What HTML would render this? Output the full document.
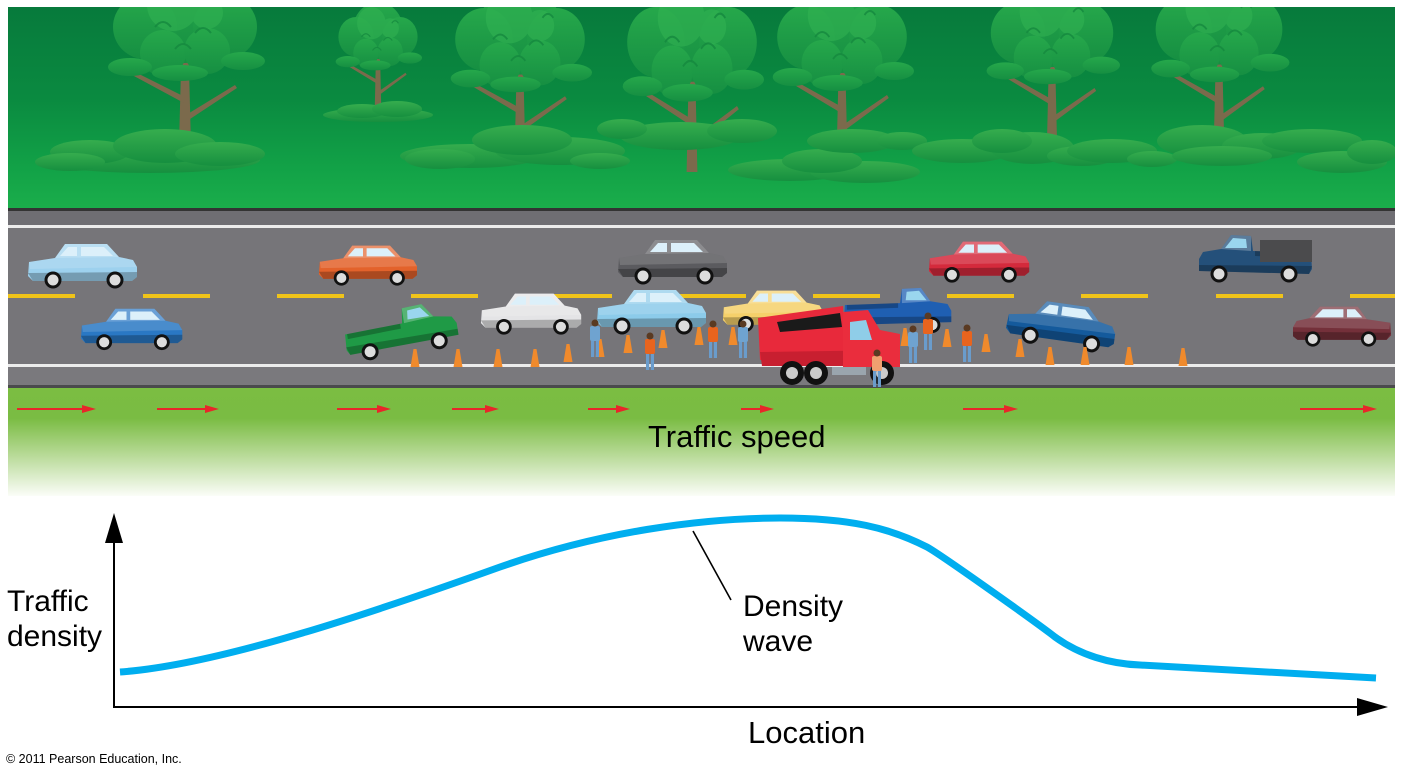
<!DOCTYPE html>
<html><head><meta charset="utf-8"><style>
html,body{margin:0;padding:0;background:#fff;width:1402px;height:775px;overflow:hidden}
svg{display:block}
text{font-family:"Liberation Sans",Arial,sans-serif;fill:#000}
</style></head><body>
<svg width="1402" height="775" viewBox="0 0 1402 775" xmlns="http://www.w3.org/2000/svg">
<defs>
<linearGradient id="forestG" x1="0" y1="0" x2="0" y2="1">
<stop offset="0" stop-color="#077a3c"/><stop offset="0.45" stop-color="#0a8a40"/><stop offset="0.8" stop-color="#12a247"/><stop offset="1" stop-color="#1bae4b"/>
</linearGradient>
<linearGradient id="bushG" x1="0" y1="0" x2="0" y2="1">
<stop offset="0" stop-color="#36ad4e"/><stop offset="1" stop-color="#168f3f"/>
</linearGradient>
<linearGradient id="canG" x1="0" y1="0" x2="0" y2="1">
<stop offset="0" stop-color="#26a84b"/><stop offset="1" stop-color="#168f42"/>
</linearGradient>
<linearGradient id="grassG" x1="0" y1="0" x2="0" y2="1">
<stop offset="0" stop-color="#7bbd42"/><stop offset="0.28" stop-color="#7abc43"/><stop offset="0.6" stop-color="#b4d892"/><stop offset="1" stop-color="#fbfdf8"/>
</linearGradient>
<clipPath id="forestClip"><rect x="8" y="7" width="1387" height="202"/></clipPath>

<g id="tree">
<path d="M-6,0 L-3,-115 L3,-115 L6,0 Z" fill="#7b6a4c"/>
<path d="M-1,-42 L-64,-76 L-62,-79 L0,-48Z" fill="#7b6a4c"/>
<path d="M1,-30 L50,-60 L52,-57 L2,-24Z" fill="#7b6a4c"/>
<g fill="url(#canG)">
<circle cx="0" cy="-128" r="46"/>
<circle cx="-40" cy="-118" r="32"/>
<circle cx="40" cy="-118" r="32"/>
<circle cx="-22" cy="-92" r="23"/>
<circle cx="22" cy="-94" r="23"/>
<ellipse cx="-55" cy="-78" rx="22" ry="9"/>
<ellipse cx="58" cy="-84" rx="22" ry="9"/>
<ellipse cx="-5" cy="-72" rx="28" ry="8"/>
</g>
<g fill="#33b453" opacity="0.55">
<circle cx="-12" cy="-140" r="26"/>
<circle cx="22" cy="-132" r="16"/>
</g>
<g fill="none" stroke="#15893f" stroke-width="2" opacity="0.8">
<path d="M-30,-118 q8,-10 16,0"/><path d="M10,-112 q8,-10 16,0"/><path d="M-10,-96 q8,-10 16,0"/><path d="M25,-140 q6,-8 12,0"/>
</g>
</g>

<g id="sedan">
<path d="M2,22 L28,18 L38,4 L80,4 L92,17 L106,20 L110,27 L110,37 L105,41 L6,41 L1,36 Z" fill="currentColor"/>
<path d="M38,4 L80,4 L92,17 L28,18 Z" fill="#fff" fill-opacity=".3"/>
<path d="M2,22 L28,18 L92,17 L106,20 L110,27 L3,29Z" fill="#fff" fill-opacity=".15"/>
<path d="M1,33 L110,32 L110,37 L105,41 L6,41 Z" fill="#000" fill-opacity=".25"/>
<path d="M33,16 L41,7 L50,7 L50,16Z" fill="#dcf0fa"/>
<path d="M54,7 L77,7 L86,16 L54,16Z" fill="#dcf0fa"/>
<circle cx="26" cy="40" r="8.5" fill="#111"/><circle cx="26" cy="40" r="5.5" fill="#ddd"/>
<circle cx="88" cy="40" r="8.5" fill="#111"/><circle cx="88" cy="40" r="5.5" fill="#ddd"/>
</g>

<g id="pickup">
<path d="M2,20 L60,18 L62,3 L82,2 L92,16 L110,19 L114,26 L114,38 L4,41 L1,36Z" fill="currentColor"/>
<path d="M62,3 L82,2 L92,16 L62,18Z" fill="#fff" fill-opacity=".25"/>
<path d="M66,15 L67,6 L80,5 L88,15Z" fill="#9ad6ee"/>
<path d="M4,20 L58,18 L58,23 L4,25Z" fill="#000" fill-opacity=".25"/>
<path d="M1,33 L114,32 L114,38 L4,41Z" fill="#000" fill-opacity=".25"/>
<circle cx="24" cy="41" r="8.5" fill="#111"/><circle cx="24" cy="41" r="5.5" fill="#ddd"/>
<circle cx="94" cy="41" r="8.5" fill="#111"/><circle cx="94" cy="41" r="5.5" fill="#ddd"/>
</g>

<g id="cone"><path d="M-4.5,0 L-1.5,-18 L1.5,-18 L4.5,0 Z" fill="#f08a2c"/></g>
<g id="worker">
<rect x="-4" y="-17" width="3.2" height="17" fill="#6a9ccc"/>
<rect x="0.8" y="-17" width="3.2" height="17" fill="#6a9ccc"/>
<rect x="-5" y="-31" width="10" height="15" rx="2" fill="currentColor"/>
<circle cx="0" cy="-34" r="3.5" fill="#5a3a22"/>
</g>
</defs>

<!-- FOREST -->
<g clip-path="url(#forestClip)">
<rect x="8" y="7" width="1387" height="202" fill="url(#forestG)"/>
<use href="#tree" transform="translate(185,145)"/>
<use href="#tree" transform="translate(378,110) scale(0.55,0.62)"/>
<use href="#tree" transform="translate(520,155) scale(0.9,0.98)"/>
<use href="#tree" transform="translate(692,172) scale(0.9,1.1)"/>
<use href="#tree" transform="translate(842,155) scale(0.9,1.0)"/>
<use href="#tree" transform="translate(1052,145) scale(0.85,0.95)"/>
<use href="#tree" transform="translate(1219,145) scale(0.88,0.98)"/>
<g fill="url(#bushG)">
<ellipse cx="150" cy="160" rx="110" ry="13"/>
<ellipse cx="90" cy="152" rx="40" ry="12"/>
<ellipse cx="165" cy="146" rx="52" ry="17"/>
<ellipse cx="220" cy="154" rx="45" ry="12"/>
<ellipse cx="70" cy="162" rx="35" ry="9"/>
<ellipse cx="378" cy="115" rx="55" ry="7"/>
<ellipse cx="362" cy="111" rx="25" ry="7"/>
<ellipse cx="397" cy="109" rx="25" ry="8"/>
<ellipse cx="470" cy="156" rx="70" ry="12"/>
<ellipse cx="560" cy="151" rx="65" ry="14"/>
<ellipse cx="522" cy="140" rx="50" ry="15"/>
<ellipse cx="440" cy="159" rx="35" ry="10"/>
<ellipse cx="600" cy="161" rx="30" ry="8"/>
<ellipse cx="680" cy="136" rx="60" ry="14"/>
<ellipse cx="742" cy="131" rx="35" ry="12"/>
<ellipse cx="622" cy="129" rx="25" ry="10"/>
<ellipse cx="790" cy="170" rx="62" ry="11"/>
<ellipse cx="865" cy="172" rx="55" ry="11"/>
<ellipse cx="822" cy="161" rx="40" ry="12"/>
<ellipse cx="852" cy="141" rx="45" ry="12"/>
<ellipse cx="902" cy="141" rx="25" ry="9"/>
<ellipse cx="962" cy="151" rx="50" ry="12"/>
<ellipse cx="1032" cy="148" rx="42" ry="16"/>
<ellipse cx="1082" cy="156" rx="35" ry="10"/>
<ellipse cx="1002" cy="141" rx="30" ry="12"/>
<ellipse cx="1112" cy="151" rx="45" ry="12"/>
<ellipse cx="1152" cy="159" rx="25" ry="8"/>
<ellipse cx="1202" cy="141" rx="45" ry="16"/>
<ellipse cx="1262" cy="146" rx="40" ry="13"/>
<ellipse cx="1312" cy="141" rx="50" ry="12"/>
<ellipse cx="1342" cy="162" rx="45" ry="11"/>
<ellipse cx="1372" cy="152" rx="25" ry="12"/>
<ellipse cx="1222" cy="156" rx="50" ry="10"/>
</g>
</g>

<!-- ROAD -->
<rect x="8" y="208" width="1387" height="3" fill="#333"/>
<rect x="8" y="211" width="1387" height="14" fill="#6f6e73"/>
<rect x="8" y="225" width="1387" height="3" fill="#ececec"/>
<rect x="8" y="228" width="1387" height="136" fill="#767579"/>
<rect x="8" y="364" width="1387" height="3" fill="#ececec"/>
<rect x="8" y="367" width="1387" height="18" fill="#7a797d"/>
<rect x="8" y="385" width="1387" height="3" fill="#4a4a4c"/>
<g fill="#f0c419">
<rect x="8" y="294" width="67" height="4"/><rect x="143" y="294" width="67" height="4"/>
<rect x="277" y="294" width="67" height="4"/><rect x="411" y="294" width="67" height="4"/>
<rect x="545" y="294" width="67" height="4"/><rect x="679" y="294" width="67" height="4"/>
<rect x="813" y="294" width="67" height="4"/><rect x="947" y="294" width="67" height="4"/>
<rect x="1081" y="294" width="67" height="4"/><rect x="1216" y="294" width="67" height="4"/>
<rect x="1350" y="294" width="45" height="4"/>
</g>

<!-- GRASS -->
<rect x="8" y="388" width="1387" height="108" fill="url(#grassG)"/>
<g stroke="#e8262a" stroke-width="2" fill="none">
<line x1="17" y1="409" x2="85" y2="409"/><line x1="157" y1="409" x2="208" y2="409"/>
<line x1="337" y1="409" x2="380" y2="409"/><line x1="452" y1="409" x2="488" y2="409"/>
<line x1="588" y1="409" x2="619" y2="409"/><line x1="741" y1="409" x2="763" y2="409"/>
<line x1="963" y1="409" x2="1007" y2="409"/><line x1="1300" y1="409" x2="1366" y2="409"/>
</g>
<g fill="#e8262a">
<polygon points="82,405 96,409 82,413"/><polygon points="205,405 219,409 205,413"/>
<polygon points="377,405 391,409 377,413"/><polygon points="485,405 499,409 485,413"/>
<polygon points="616,405 630,409 616,413"/><polygon points="760,405 774,409 760,413"/>
<polygon points="1004,405 1018,409 1004,413"/><polygon points="1363,405 1377,409 1363,413"/>
</g>
<text x="648" y="447" font-size="31">Traffic speed</text>

<!-- CARS -->
<use href="#sedan" transform="translate(27,240)" color="#9dd1ee"/>
<use href="#sedan" transform="translate(80,305) scale(0.93)" color="#2a78c4"/>
<use href="#sedan" transform="translate(318,242) scale(0.9)" color="#e3622b"/>
<use href="#pickup" transform="translate(340,315) rotate(-9)" color="#1f9a46"/>
<use href="#sedan" transform="translate(480,290) scale(0.92)" color="#e4e4e6"/>
<use href="#sedan" transform="translate(617,236)" color="#5b5b5f"/>
<use href="#sedan" transform="translate(596,286)" color="#8ccbea"/>
<use href="#sedan" transform="translate(722,287) scale(0.92)" color="#f5d06a"/>
<use href="#pickup" transform="translate(843,286) scale(0.95)" color="#1f5fb2"/>
<use href="#sedan" transform="translate(928,238) scale(0.92)" color="#d42a3c"/>
<use href="#sedan" transform="translate(1010,292) rotate(8)" color="#145a9c"/>
<g transform="translate(1313,233) scale(-1,1)">
<use href="#pickup" color="#24507a"/>
<rect x="1" y="7" width="52" height="22" fill="#4b4b4d"/>
</g>
<use href="#sedan" transform="translate(1392,303) scale(-0.9,0.9)" color="#74303a"/>

<!-- cones -->
<use href="#cone" x="415" y="367"/><use href="#cone" x="458" y="367"/><use href="#cone" x="498" y="367"/>
<use href="#cone" x="535" y="367"/><use href="#cone" x="568" y="362"/><use href="#cone" x="600" y="357"/>
<use href="#cone" x="628" y="353"/><use href="#cone" x="663" y="348"/><use href="#cone" x="699" y="345"/>
<use href="#cone" x="733" y="345"/><use href="#cone" x="905" y="346"/><use href="#cone" x="947" y="347"/>
<use href="#cone" x="986" y="352"/><use href="#cone" x="1020" y="357"/><use href="#cone" x="1050" y="365"/>
<use href="#cone" x="1085" y="365"/><use href="#cone" x="1129" y="365"/><use href="#cone" x="1183" y="366"/>

<!-- dump truck -->
<polygon points="758,318 843,306 846,358 760,360" fill="#e8293b"/>
<polygon points="777,322 840,313 842,327 780,332" fill="#1a1a1a"/>
<polygon points="760,352 900,350 900,366 762,366" fill="#c81f30"/>
<polygon points="843,312 868,310 880,330 900,334 900,367 843,367" fill="#ea2d3d"/>
<polygon points="850,322 866,320 872,340 850,340" fill="#8fcde8"/>
<rect x="832" y="367" width="34" height="8" fill="#9aa5ae"/>
<circle cx="792" cy="373" r="12" fill="#111"/><circle cx="792" cy="373" r="6" fill="#ccc"/>
<circle cx="816" cy="373" r="12" fill="#111"/><circle cx="816" cy="373" r="6" fill="#ccc"/>
<circle cx="882" cy="373" r="12" fill="#111"/><circle cx="882" cy="373" r="6" fill="#ccc"/>

<!-- workers -->
<use href="#worker" x="595" y="357" color="#6fa3d0"/>
<use href="#worker" x="650" y="370" color="#e8641e"/>
<use href="#worker" x="713" y="358" color="#e8641e"/>
<use href="#worker" x="743" y="358" color="#6fa3d0"/>
<use href="#worker" x="877" y="387" color="#f0a070"/>
<use href="#worker" x="913" y="363" color="#6fa3d0"/>
<use href="#worker" x="928" y="350" color="#e8641e"/>
<use href="#worker" x="967" y="362" color="#e8641e"/>

<!-- GRAPH -->
<line x1="114" y1="540" x2="114" y2="708" stroke="#000" stroke-width="2"/>
<polygon points="114,513 105,543 123,543" fill="#000"/>
<line x1="113" y1="707" x2="1362" y2="707" stroke="#000" stroke-width="2"/>
<polygon points="1388,707 1357,698 1357,716" fill="#000"/>
<path d="M120,672 C220,665 380,610 500,567 C600,532 700,518 780,518 C850,518 890,528 927,547 C940,554 1040,625 1055,637 C1080,655 1110,664 1140,665 L1376,678" fill="none" stroke="#00aeef" stroke-width="7"/>
<line x1="693" y1="531" x2="731" y2="600" stroke="#000" stroke-width="1.6"/>
<text x="7" y="611" font-size="30">Traffic</text>
<text x="7" y="646" font-size="30">density</text>
<text x="743" y="616" font-size="30">Density</text>
<text x="743" y="651" font-size="30">wave</text>
<text x="748" y="743" font-size="31">Location</text>
<text x="6" y="763" font-size="12.5">© 2011 Pearson Education, Inc.</text>
</svg>
</body></html>
